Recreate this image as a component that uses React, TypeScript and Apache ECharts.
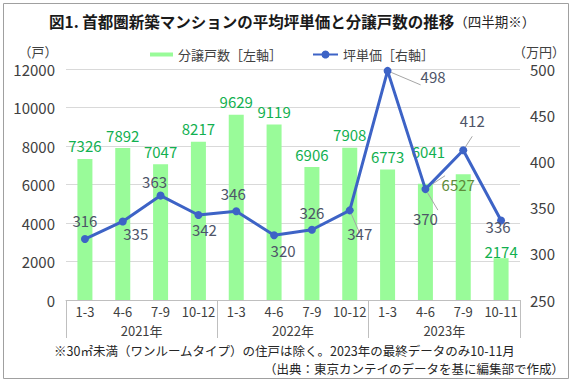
import React, { useEffect, useRef } from "react";
import * as echarts from "echarts";

const categories = ["1-3", "4-6", "7-9", "10-12", "1-3", "4-6", "7-9", "10-12", "1-3", "4-6", "7-9", "10-11"];
const years = ["2021年", "2022年", "2023年"];
const units = [7326, 7892, 7047, 8217, 9629, 9119, 6906, 7908, 6773, 6041, 6527, 2174];
const prices = [316, 335, 363, 342, 346, 320, 326, 347, 498, 370, 412, 336];
const leftTicks = { min: 0, max: 12000, interval: 2000 };
const rightTicks = { min: 250, max: 500, interval: 50 };
const unitsName = "分譲戸数［左軸］";
const priceName = "坪単価［右軸］";

// label placement (style only): [position, dx, dy, leaderLine]
const priceLabelPlace: [string, number, number, boolean][] = [
  ["top", 0, -2, false],
  ["bottom", 13, -5, false],
  ["top", -6, 3, false],
  ["bottom", 6, -2, false],
  ["top", -3, -1, true],
  ["bottom", 9, -2, false],
  ["top", 0, 0, false],
  ["bottom", 10, 6, true],
  ["right", 24, 6, true],
  ["bottom", 0, 12, true],
  ["top", 9, -13, true],
  ["bottom", -3, -11, false],
];
// [position, dx, dy, leaderLine, distance, colour]
const unitsLabelPlace: Record<number, [string, number, number, boolean, number, string?]> = {
  9: ["top", 3, -19, true, 5],
  10: ["insideTop", -5, 2, false, 0, "#5E8C3A"],
  11: ["top", 0, 1, false, 0],
};

const FONT = "'Noto Sans CJK JP', 'Noto Sans', sans-serif";
const GREEN_BAR = "#99FB99";
const GREEN_TXT = "#12B050";
const BLUE = "#3D63C6";
const LINE_TXT = "#4E5468";
const AXIS_TXT = "#404040";

export default function App() {
  const ref = useRef<HTMLDivElement>(null);
  useEffect(() => {
    if (!ref.current) return;
    const chart = echarts.init(ref.current, null, { renderer: "svg" });
    const barData = units.map((v, i) => {
      const p = unitsLabelPlace[i];
      if (!p) return v;
      return {
        value: v,
        label: {
          position: p[0],
          offset: [p[1], p[2]],
          distance: p[4],
          color: p[5] || GREEN_TXT,
        },
        labelLine: { show: p[3], lineStyle: { color: "#A6A6A6", width: 1 } },
      };
    });
    const lineData = prices.map((v, i) => {
      const p = priceLabelPlace[i];
      return {
        value: v,
        label: { position: p[0], offset: [p[1], p[2]] },
        labelLine: { show: p[3], lineStyle: { color: "#A6A6A6", width: 1 } },
      };
    });
    chart.setOption({
      animation: false,
      backgroundColor: "#fff",
      textStyle: { fontFamily: FONT },
      grid: { left: 66, right: 52, top: 69, bottom: 83 },
      legend: [
        {
          data: [{ name: unitsName, icon: "rect" }],
          left: 145,
          top: 43,
          itemWidth: 23,
          itemHeight: 4,
          textStyle: { fontSize: 13, color: AXIS_TXT, fontFamily: FONT },
        },
        {
          data: [priceName],
          left: 307,
          top: 43,
          itemWidth: 25,
          itemHeight: 10,
          textStyle: { fontSize: 13, color: AXIS_TXT, fontFamily: FONT },
        },
      ],
      xAxis: [
        {
          type: "category",
          data: categories,
          position: "bottom",
          axisLine: { show: true, lineStyle: { color: "#BFBFBF", width: 1 } },
          axisTick: { show: false },
          axisLabel: { fontSize: 13, color: AXIS_TXT, margin: 5, fontFamily: FONT, interval: 0 },
        },
        {
          type: "category",
          data: years,
          position: "bottom",
          axisLine: { show: false },
          axisTick: { show: true, length: 38, lineStyle: { color: "#BFBFBF", width: 1 } },
          axisLabel: { fontSize: 13, color: AXIS_TXT, margin: 24, fontFamily: FONT },
        },
      ],
      yAxis: [
        {
          type: "value",
          ...leftTicks,
          axisLine: { show: false },
          axisTick: { show: false },
          splitLine: { lineStyle: { color: "#D9D9D9", width: 1 } },
          axisLabel: { fontSize: 15, color: AXIS_TXT, margin: 11, fontFamily: FONT, formatter: (v: number) => String(v) },
        },
        {
          type: "value",
          ...rightTicks,
          axisLine: { show: false },
          axisTick: { show: false },
          splitLine: { show: false },
          axisLabel: { fontSize: 15, color: AXIS_TXT, margin: 10, fontFamily: FONT, formatter: (v: number) => String(v) },
        },
      ],
      series: [
        {
          name: unitsName,
          type: "bar",
          data: barData,
          barWidth: 15,
          itemStyle: { color: GREEN_BAR },
          label: { show: true, position: "top", fontSize: 15, lineHeight: 16, color: GREEN_TXT, fontFamily: FONT },
          z: 2,
        },
        {
          name: priceName,
          type: "line",
          yAxisIndex: 1,
          data: lineData,
          symbol: "circle",
          symbolSize: 8,
          lineStyle: { color: BLUE, width: 3 },
          itemStyle: { color: BLUE },
          label: { show: true, fontSize: 15, lineHeight: 16, color: LINE_TXT, fontFamily: FONT, distance: 5 },
          z: 3,
        },
      ],
      graphic: [
        {
          type: "rect",
          silent: true,
          z: -10,
          shape: { x: 3.5, y: 3.5, width: 565, height: 375 },
          style: { fill: "none", stroke: "#A0A0A0", lineWidth: 1 },
        },
        {
          type: "text",
          left: 49,
          top: 13,
          style: {
            text: "{a|図1. 首都圏新築マンションの平均坪単価と分譲戸数の推移}{b|（四半期※）}",
            rich: {
              a: { fontSize: 15.5, fontWeight: "bold", fill: "#1A1A1A", fontFamily: FONT },
              b: { fontSize: 13.5, fill: "#262626", fontFamily: FONT },
            },
          },
        },
        {
          type: "text",
          x: 38,
          y: 51,
          style: { text: "（戸）", fontSize: 13, fill: AXIS_TXT, fontFamily: FONT, align: "center", verticalAlign: "middle" },
        },
        {
          type: "text",
          x: 539,
          y: 51,
          style: { text: "（万円）", fontSize: 13, fill: AXIS_TXT, fontFamily: FONT, align: "center", verticalAlign: "middle" },
        },
        {
          type: "text",
          x: 54,
          y: 350,
          style: {
            text: "※30㎡未満（ワンルームタイプ）の住戸は除く。2023年の最終データのみ10-11月",
            fontSize: 12.5,
            lineHeight: 14,
            fill: "#262626",
            fontFamily: FONT,
            align: "left",
            verticalAlign: "middle",
          },
        },
        {
          type: "text",
          x: 564,
          y: 368,
          style: {
            text: "（出典：東京カンテイのデータを基に編集部で作成）",
            fontSize: 12.5,
            lineHeight: 14,
            fill: "#262626",
            fontFamily: FONT,
            align: "right",
            verticalAlign: "middle",
          },
        },
      ],
    });
    return () => chart.dispose();
  }, []);
  return <div ref={ref} style={{ position: "absolute", left: 0, top: 0, width: 572, height: 383 }} />;
}
